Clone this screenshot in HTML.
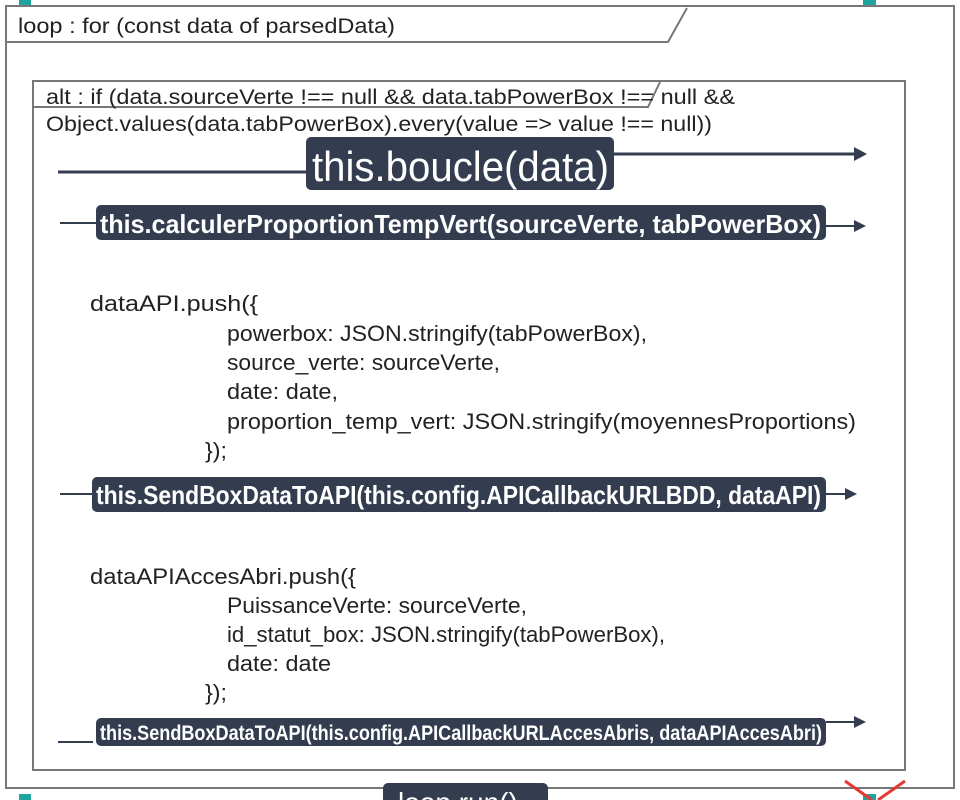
<!DOCTYPE html>
<html><head><meta charset="utf-8"><style>
html,body{margin:0;padding:0;background:#fff;width:960px;height:800px;overflow:hidden}
svg{display:block}
text{font-family:"Liberation Sans Narrow","Liberation Sans",sans-serif;fill:#222}
.w{fill:#fff}
</style></head><body>
<svg width="960" height="800" viewBox="0 0 960 800" xmlns="http://www.w3.org/2000/svg">
<rect x="19" y="0" width="12" height="6" fill="#1fa4a0"/>
<rect x="863" y="0" width="13" height="6" fill="#1fa4a0"/>
<rect x="19" y="794" width="12" height="6" fill="#1fa4a0"/>
<rect x="863" y="794" width="13" height="6" fill="#1fa4a0"/>
<rect x="6" y="6" width="948" height="782" fill="none" stroke="#777" stroke-width="2"/>
<polyline points="6,42 668,42 687,8" fill="none" stroke="#777" stroke-width="2"/>
<text x="18" y="33" font-size="21" textLength="377" lengthAdjust="spacingAndGlyphs">loop : for (const data of parsedData)</text>
<rect x="33" y="81" width="872" height="689" fill="none" stroke="#777" stroke-width="2"/>
<polyline points="33,107 648,107 660,82" fill="none" stroke="#777" stroke-width="2"/>
<text x="46" y="104" font-size="21" textLength="689" lengthAdjust="spacingAndGlyphs">alt : if (data.sourceVerte !== null &amp;&amp; data.tabPowerBox !== null &amp;&amp;</text>
<text x="46" y="131" font-size="21" textLength="666" lengthAdjust="spacingAndGlyphs">Object.values(data.tabPowerBox).every(value =&gt; value !== null))</text>
<line x1="58" y1="172" x2="306" y2="172" stroke="#333d4f" stroke-width="3"/>
<line x1="614" y1="154" x2="855" y2="154" stroke="#333d4f" stroke-width="3"/>
<polygon points="854,147 867,154 854,161" fill="#333d4f"/>
<rect x="306" y="137" width="308" height="53" rx="5" fill="#333d4f"/>
<text class="w" x="312" y="181" font-size="42" textLength="297" lengthAdjust="spacingAndGlyphs">this.boucle(data)</text>
<line x1="60" y1="223" x2="96" y2="223" stroke="#333d4f" stroke-width="2"/>
<line x1="826" y1="226" x2="855" y2="226" stroke="#333d4f" stroke-width="2"/>
<polygon points="854,220 866,226 854,232" fill="#333d4f"/>
<rect x="96" y="205" width="730" height="35" rx="5" fill="#333d4f"/>
<text class="w" x="100" y="233" font-size="26" font-weight="bold" textLength="721" lengthAdjust="spacingAndGlyphs">this.calculerProportionTempVert(sourceVerte, tabPowerBox)</text>
<text x="90" y="311" font-size="22" textLength="168" lengthAdjust="spacingAndGlyphs">dataAPI.push({</text>
<text x="227" y="341" font-size="22" textLength="420" lengthAdjust="spacingAndGlyphs">powerbox: JSON.stringify(tabPowerBox),</text>
<text x="227" y="370" font-size="22" textLength="273" lengthAdjust="spacingAndGlyphs">source_verte: sourceVerte,</text>
<text x="227" y="399" font-size="22" textLength="111" lengthAdjust="spacingAndGlyphs">date: date,</text>
<text x="227" y="429" font-size="22" textLength="629" lengthAdjust="spacingAndGlyphs">proportion_temp_vert: JSON.stringify(moyennesProportions)</text>
<text x="205" y="458" font-size="22" textLength="22" lengthAdjust="spacingAndGlyphs">});</text>
<line x1="60" y1="494" x2="92" y2="494" stroke="#333d4f" stroke-width="2"/>
<line x1="826" y1="494" x2="846" y2="494" stroke="#333d4f" stroke-width="2"/>
<polygon points="845,488 857,494 845,500" fill="#333d4f"/>
<rect x="92" y="477" width="734" height="35" rx="5" fill="#333d4f"/>
<text class="w" x="96" y="504" font-size="26" font-weight="bold" textLength="725" lengthAdjust="spacingAndGlyphs">this.SendBoxDataToAPI(this.config.APICallbackURLBDD, dataAPI)</text>
<text x="90" y="584" font-size="22" textLength="266" lengthAdjust="spacingAndGlyphs">dataAPIAccesAbri.push({</text>
<text x="227" y="613" font-size="22" textLength="300" lengthAdjust="spacingAndGlyphs">PuissanceVerte: sourceVerte,</text>
<text x="227" y="642" font-size="22" textLength="438" lengthAdjust="spacingAndGlyphs">id_statut_box: JSON.stringify(tabPowerBox),</text>
<text x="227" y="671" font-size="22" textLength="104" lengthAdjust="spacingAndGlyphs">date: date</text>
<text x="205" y="700" font-size="22" textLength="22" lengthAdjust="spacingAndGlyphs">});</text>
<line x1="58" y1="742" x2="93" y2="742" stroke="#333d4f" stroke-width="2"/>
<line x1="826" y1="722" x2="855" y2="722" stroke="#333d4f" stroke-width="2"/>
<polygon points="854,716 866,722 854,728" fill="#333d4f"/>
<rect x="96" y="718" width="730" height="28" rx="5" fill="#333d4f"/>
<text class="w" x="100" y="740" font-size="21" font-weight="bold" textLength="722" lengthAdjust="spacingAndGlyphs">this.SendBoxDataToAPI(this.config.APICallbackURLAccesAbris, dataAPIAccesAbri)</text>
<rect x="383" y="783" width="165" height="30" rx="5" fill="#333d4f"/>
<text class="w" x="398" y="812" font-size="28">loop.run()</text>
<line x1="845" y1="781" x2="872" y2="800" stroke="#e53935" stroke-width="3"/>
<line x1="905" y1="781" x2="878" y2="800" stroke="#e53935" stroke-width="3"/>
</svg>
</body></html>
